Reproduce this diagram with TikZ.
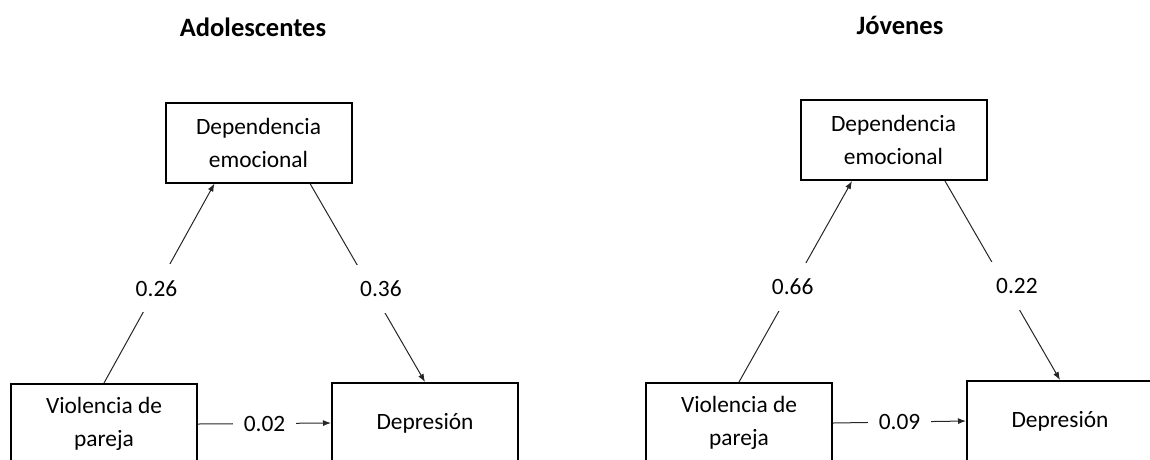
\documentclass[tikz,border=0pt]{standalone}
\usepackage{fontspec}
\setmainfont{Carlito}
\usetikzlibrary{arrows.meta}

\begin{document}
\begin{tikzpicture}[x=1pt, y=-1pt,
	construct/.style={draw, line width=2pt, minimum width=186pt, minimum height=80pt, inner sep=0pt, align=center, font=\fontsize{23.4}{33}\selectfont},
	effect/.style={line width=1pt, draw=black!85, -{Latex[length=8pt, width=6pt]}},
	coef/.style={fill=white, inner xsep=11pt, inner ysep=0pt, minimum height=48pt, font=\fontsize{23.4}{28}\selectfont},
	grp/.style={font=\bfseries\fontsize{26.5}{32}\selectfont}]

		\useasboundingbox (0, 0) rectangle (1150, 459);
		\clip (0, 0) rectangle (1150, 459);

		% Adolescentes
		\node[grp] (tA) at (253, 27) {Adolescentes};
		\node[construct] (DA) at (258.5, 142.5) {Dependencia\\emocional};
		\node[construct] (VA) at (104, 424) {Violencia de\\pareja};
		\node[construct] (PA) at (425, 423) {Depresión};

		\draw[effect] (VA.north) -- node[coef, pos=0.475] {0.26} ([xshift=-44pt]DA.south);
		\draw[effect] ([xshift=51.5pt]DA.south) -- node[coef, pos=0.53, xshift=10pt] {0.36} (PA.north);
		\draw[effect] (VA.east) -- node[coef] {0.02} (PA.west);


		% Jovenes
		\node[grp] (tJ) at (900, 25) {Jóvenes};
		\node[construct] (DJ) at (893.5, 140) {Dependencia\\emocional};
		\node[construct] (VJ) at (739, 423) {Violencia de\\pareja};
		\node[construct] (PJ) at (1060, 421) {Depresión};

		\draw[effect] (VJ.north) -- node[coef, pos=0.475] {0.66} ([xshift=-41.5pt]DJ.south);
		\draw[effect] ([xshift=51.5pt]DJ.south) -- node[coef, pos=0.53, xshift=11pt] {0.22} (PJ.north);
		\draw[effect] (VJ.east) -- node[coef] {0.09} (PJ.west);

	\end{tikzpicture}
\end{document}
